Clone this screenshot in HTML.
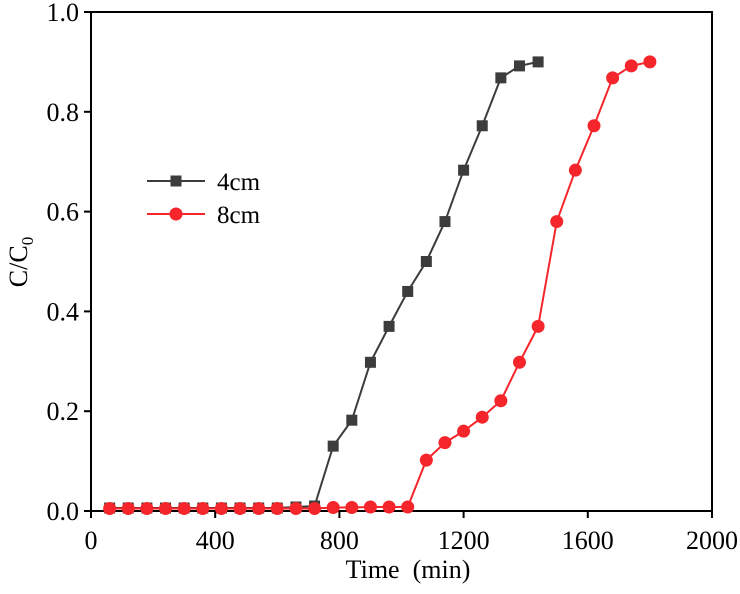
<!DOCTYPE html>
<html><head><meta charset="utf-8"><style>
body{margin:0;background:#fff}
svg{display:block;font-family:"Liberation Serif","Times New Roman",serif}
</style></head><body>
<svg id="chart" width="740" height="594"></svg>
<script>
const xTicks=[0,400,800,1200,1600,2000];
const yTicks=[0.0,0.2,0.4,0.6,0.8,1.0];
const timeA=[60,120,180,240,300,360,420,480,540,600,660,720,780,840,900,960,1020,1080,1140,1200,1260,1320,1380,1440];
const valA=[0.006,0.006,0.006,0.006,0.006,0.006,0.006,0.006,0.006,0.006,0.008,0.01,0.13,0.182,0.298,0.37,0.44,0.5,0.58,0.683,0.772,0.868,0.892,0.9];
const timeB=[60,120,180,240,300,360,420,480,540,600,660,720,780,840,900,960,1020,1080,1140,1200,1260,1320,1380,1440,1500,1560,1620,1680,1740,1800];
const valB=[0.005,0.005,0.005,0.005,0.005,0.005,0.005,0.005,0.005,0.005,0.005,0.005,0.007,0.007,0.008,0.008,0.008,0.102,0.137,0.16,0.188,0.221,0.298,0.37,0.58,0.683,0.772,0.868,0.892,0.9];
const L=91,R=712,T=12,B=511;
const sx=v=>L+v/2000*(R-L), sy=v=>B-v*(B-T);
const svg=document.getElementById('chart');
const NS='http://www.w3.org/2000/svg';
function mk(tag,attrs,parent){const e=document.createElementNS(NS,tag);for(const k in attrs)e.setAttribute(k,attrs[k]);(parent||svg).appendChild(e);return e;}
const frame=mk('rect',{x:L,y:T,width:R-L,height:B-T,fill:'none',stroke:'#000','stroke-width':2});


xTicks.forEach(v=>{
 const t=mk('line',{x1:sx(v),x2:sx(v),y1:B,y2:B+7,stroke:'#000','stroke-width':2});
 
 
 const l=mk('text',{x:sx(v),y:B+38,'text-anchor':'middle','font-size':26});l.textContent=v;
 
 
});
yTicks.forEach(v=>{
 const t=mk('line',{x1:L-7,x2:L,y1:sy(v),y2:sy(v),stroke:'#000','stroke-width':2});
 
 
 const l=mk('text',{x:L-12,y:sy(v)+9,'text-anchor':'end','font-size':26});l.textContent=v.toFixed(1);
 
 
});
const xt=mk('text',{x:408,y:578,'text-anchor':'middle','font-size':26});xt.textContent='Time\u00a0\u00a0(min)';


const yt=mk('text',{transform:'translate(27,262) rotate(-90)','text-anchor':'middle','font-size':26});
yt.innerHTML='C/C<tspan font-size="17" dy="6">0</tspan>';


function series(xs,ys,color,shape,name){
 const g=mk('g',{});
 
 
 mk('polyline',{points:xs.map((x,i)=>sx(x)+','+sy(ys[i])).join(' '),fill:'none',stroke:color,'stroke-width':2},g);
 xs.forEach((x,i)=>{
  let m;
  if(shape==='sq') m=mk('rect',{x:sx(x)-5.5,y:sy(ys[i])-5.5,width:11,height:11,fill:color},g);
  else m=mk('circle',{cx:sx(x),cy:sy(ys[i]),r:6.5,fill:color},g);
  
  
 });
}
series(timeA,valA,'#3c3c3c','sq','series-4cm');
series(timeB,valB,'#f5262b','ci','series-8cm');
const lg=mk('g',{});


mk('line',{x1:147,x2:205,y1:181,y2:181,stroke:'#3c3c3c','stroke-width':2},lg);
mk('rect',{x:170.5,y:175.5,width:11,height:11,fill:'#3c3c3c'},lg);
const t1=mk('text',{x:217,y:190,'font-size':25},lg);t1.textContent='4cm';
mk('line',{x1:147,x2:205,y1:214,y2:214,stroke:'#f5262b','stroke-width':2},lg);
mk('circle',{cx:176,cy:214,r:6.5,fill:'#f5262b'},lg);
const t2=mk('text',{x:217,y:223,'font-size':25},lg);t2.textContent='8cm';
</script>
</body></html>
